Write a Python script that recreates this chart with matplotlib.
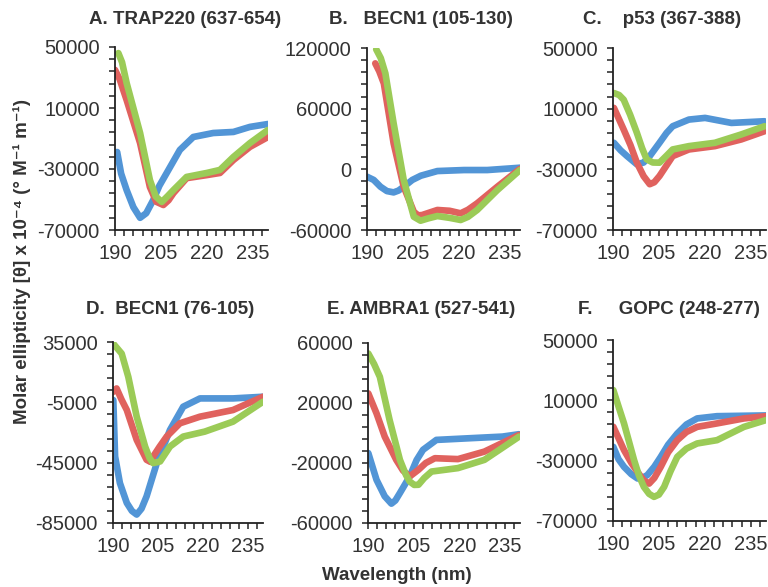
import numpy as np
import matplotlib.pyplot as plt
from matplotlib.ticker import FixedLocator

plt.rcParams['font.family'] = ['Liberation Sans', 'DejaVu Sans']
plt.rcParams['axes.unicode_minus'] = False

BLUE = '#5295d6'
RED = '#e0625e'
GREEN = '#9bcb57'
TXT = '#333333'

# ---- panel A: TRAP220 (637-654)
a_blue_x = [190.7, 192, 193.8, 196, 198.2, 200.2, 202.5, 204.5, 206.9, 211.2, 215.6, 222.1, 228.7, 234.1, 240]
a_blue_y = [-18850, -33000, -43800, -55000, -62000, -59000, -50300, -41000, -32600, -17500, -9000, -6400, -5700, -2400, -500]
a_red_x = [190, 191.5, 193.8, 198.2, 201.4, 203.5, 205.8, 207.5, 209.1, 213.4, 220, 224.3, 228.7, 234.1, 240]
a_red_y = [35000, 29000, 15200, -13000, -41800, -51500, -53600, -50500, -45800, -36000, -34000, -32600, -24100, -15500, -9000]
a_green_x = [191.1, 192.3, 193.8, 198.2, 201.4, 203.3, 205.3, 207.2, 209.1, 213.4, 220, 224.3, 228.7, 234.1, 240]
a_green_y = [46000, 40000, 26400, -6400, -37200, -48000, -51600, -47800, -43800, -35200, -32600, -30600, -22100, -13000, -4400]

# ---- panel B: BECN1 (105-130)
b_blue_x = [190, 192.2, 194.4, 196.5, 198.7, 200.3, 202, 204.8, 207.6, 213, 221.7, 229.3, 240]
b_blue_y = [-7300, -10500, -17200, -21500, -22800, -21000, -17200, -10500, -6300, -1700, -700, -700, 1600]
b_red_x = [192.7, 194, 195.5, 198.7, 202, 205.3, 206.7, 208, 213, 217, 220.6, 223, 226, 232.6, 240]
b_red_y = [104800, 97000, 85000, 25700, -17200, -42000, -45500, -45200, -40200, -41000, -43500, -40000, -33600, -17200, 500]
b_green_x = [193, 194.5, 196, 198.7, 202, 205.3, 207.5, 210, 213, 217, 220.6, 223, 226, 232.6, 240]
b_green_y = [118700, 110000, 95000, 45500, -10600, -46900, -50800, -48500, -46200, -48000, -50100, -47000, -40200, -20500, -700]

# ---- panel C: p53 (367-388)
c_blue_x = [190.3, 192.5, 194.6, 197.8, 200, 202, 205.2, 207.5, 209.5, 214.8, 220.1, 228.7, 239.5]
c_blue_y = [-12500, -17500, -21300, -26700, -25500, -21300, -12500, -6000, -1600, 2800, 3900, 600, 1700]
c_red_x = [190.3, 193.5, 195.7, 197.8, 200, 202, 203.5, 205.2, 209.5, 214.8, 223.3, 231.9, 239.5]
c_red_y = [10500, -3800, -14000, -25600, -34500, -39800, -38500, -34400, -21300, -16900, -14700, -10300, -4900]
c_green_x = [190.3, 192, 193.5, 195.6, 197.8, 199.5, 201, 203, 205.2, 207.5, 209.5, 214.8, 223.3, 231.9, 239.5]
c_green_y = [20300, 19000, 15900, 6000, -5900, -16000, -23400, -25500, -25600, -21000, -16900, -14700, -12500, -7000, -1600]

# ---- panel D: BECN1 (76-105)
d_blue_x = [190.1, 190.7, 192.3, 194.6, 196.3, 197.9, 199.5, 201.2, 204.6, 209, 213.4, 219, 230, 240]
d_blue_y = [-3500, -40900, -58500, -71700, -77000, -79400, -75500, -67300, -45300, -23300, -7900, -2400, -2400, -1300]
d_red_x = [190.1, 191.2, 192.8, 194.6, 197.9, 201.2, 202.5, 203.4, 205.5, 207.9, 212.3, 219, 230, 240]
d_red_y = [2000, 4200, -3000, -10100, -29900, -43100, -44500, -40900, -34500, -27700, -18900, -14500, -10100, -1300]
d_green_x = [190.1, 192.9, 195.1, 197.9, 200.7, 202.2, 203.4, 205.7, 209, 213.4, 220.6, 230, 240]
d_green_y = [33900, 27300, 11900, -14500, -34300, -42000, -45300, -44200, -34300, -27700, -24400, -17800, -4600]

# ---- panel E: AMBRA1 (527-541)
e_blue_x = [190.1, 192.8, 195.5, 197.7, 199, 200.5, 203.7, 206, 208.1, 212.5, 223.3, 234.2, 239.7]
e_blue_y = [-13400, -31200, -42200, -47100, -45000, -40000, -29000, -18000, -11200, -4600, -3500, -2400, -800]
e_red_x = [190.1, 192.8, 195.5, 199.3, 201.5, 203.7, 206.6, 209, 212, 219.6, 228.3, 239.7]
e_red_y = [26400, 13100, -2400, -17900, -25000, -29000, -24500, -20000, -16800, -17400, -12400, -1300]
e_green_x = [190.1, 192, 193.9, 197.1, 200.5, 202.5, 203.7, 205.2, 206.6, 208.5, 210.9, 219.6, 228.3, 239.7]
e_green_y = [53000, 46000, 37400, 8700, -17900, -28000, -32300, -34600, -34500, -30000, -25700, -23400, -17900, -2400]

# ---- panel F: GOPC (248-277)
f_blue_x = [190.1, 191.8, 193.6, 196, 198, 199.5, 201.2, 203.5, 205.6, 208, 211, 214, 217.5, 224, 240]
f_blue_y = [-20800, -29000, -34100, -39000, -41800, -41500, -39600, -34000, -27500, -19500, -12000, -6000, -2000, -500, 0]
f_red_x = [190.1, 191.8, 193.6, 196, 198, 200, 201.8, 203.5, 205.6, 208, 211, 214, 217.5, 224, 232.8, 240]
f_red_y = [-7500, -15000, -23000, -31500, -37400, -43000, -45200, -41500, -34100, -24500, -16400, -11000, -7600, -5300, -2000, -500]
f_green_x = [190.1, 191.8, 193.6, 196.9, 198.5, 200.1, 201.8, 203.4, 205, 206.7, 208.8, 211, 214, 217.5, 224, 232.8, 240]
f_green_y = [16800, 6000, -5300, -29700, -40000, -47400, -52000, -54000, -52500, -47400, -37000, -27500, -22000, -18600, -16400, -7600, -3100]

titles = ['A. TRAP220 (637-654)', 'B.   BECN1 (105-130)', 'C.    p53 (367-388)',
          'D.  BECN1 (76-105)', 'E. AMBRA1 (527-541)', 'F.     GOPC (248-277)']
y_ranges = [(-70000, 50000), (-60000, 120000), (-70000, 50000),
            (-85000, 35000), (-60000, 60000), (-70000, 50000)]
y_major = [40000, 60000, 40000, 40000, 40000, 40000]
x_major = [190, 205, 220, 235]

panels = [
    [(a_blue_x, a_blue_y), (a_red_x, a_red_y), (a_green_x, a_green_y)],
    [(b_blue_x, b_blue_y), (b_red_x, b_red_y), (b_green_x, b_green_y)],
    [(c_blue_x, c_blue_y), (c_red_x, c_red_y), (c_green_x, c_green_y)],
    [(d_blue_x, d_blue_y), (d_red_x, d_red_y), (d_green_x, d_green_y)],
    [(e_blue_x, e_blue_y), (e_red_x, e_red_y), (e_green_x, e_green_y)],
    [(f_blue_x, f_blue_y), (f_red_x, f_red_y), (f_green_x, f_green_y)],
]

# axes boxes in pixels (left, top, right, bottom) of a 768x587 figure
boxes = [(115, 47, 268, 230), (367, 48, 520, 230), (613, 48, 766, 230),
         (113, 342, 263, 523), (368, 343, 520, 523), (613, 340, 766, 521)]
title_pos = [(185, 20), (421, 20), (662, 20), (170, 310), (421, 310), (669, 310)]

W, H = 768, 587
fig = plt.figure(figsize=(W / 100, H / 100), dpi=100)

for i in range(6):
    l, t, r, b = boxes[i]
    ax = fig.add_axes([l / W, 1 - b / H, (r - l) / W, (b - t) / H])
    for (xs, ys), col in zip(panels[i], [BLUE, RED, GREEN]):
        ax.plot(xs, ys, color=col, lw=4.8, solid_capstyle='round', solid_joinstyle='round')
    y0, y1 = y_ranges[i]
    ax.set_xlim(190, 240)
    ax.set_ylim(y0, y1)
    ax.xaxis.set_major_locator(FixedLocator(x_major))
    ax.xaxis.set_minor_locator(FixedLocator(np.arange(190, 241, 3)))
    ax.yaxis.set_major_locator(FixedLocator(np.arange(y0, y1 + 1, y_major[i])))
    ax.yaxis.set_minor_locator(FixedLocator(np.arange(y0, y1 + 1, y_major[i] / 5)))
    for s in ['top', 'right']:
        ax.spines[s].set_visible(False)
    for s in ['left', 'bottom']:
        ax.spines[s].set_color('#222222')
        ax.spines[s].set_linewidth(1.3)
    ax.tick_params(which='both', direction='out', color='#222222', width=1.1,
                   labelsize=14.5, labelcolor=TXT)
    ax.tick_params(which='major', length=4, pad=7)
    ax.tick_params(which='minor', length=4)
    ax.tick_params(axis='x', which='major', pad=6)
    fig.text(title_pos[i][0] / W, 1 - title_pos[i][1] / H, titles[i],
             ha='center', va='center', fontsize=13.5, fontweight='bold', color=TXT)

fig.text(22 / W, 1 - 262 / H, 'Molar ellipticity [θ] x 10⁻⁴ (° M⁻¹ m⁻¹)',
         rotation=90, ha='center', va='center', fontsize=13.5, fontweight='bold', color=TXT)
fig.text(397 / W, 1 - 575 / H, 'Wavelength (nm)', ha='center', va='center',
         fontsize=13.5, fontweight='bold', color=TXT)

fig.savefig('out.png', dpi=100)
